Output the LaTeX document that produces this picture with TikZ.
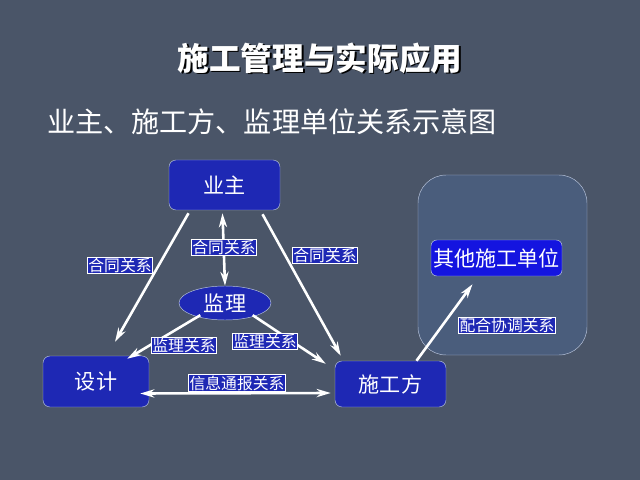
\documentclass[tikz,border=0pt]{standalone}
\usepackage{fontspec}
\setmainfont{Noto Sans CJK SC}
\usetikzlibrary{calc,shapes.geometric,arrows.meta}
\definecolor{bgslate}{HTML}{4A5568}
\definecolor{boxblue}{HTML}{1E28B4}
\definecolor{brightblue}{HTML}{1414E0}
\definecolor{panelblue}{HTML}{4A5D7C}
\definecolor{edgegray}{HTML}{B8C4DC}
\begin{document}
\begin{tikzpicture}[x=0.03cm,y=-0.03cm,
    party/.style={draw=edgegray,fill=boxblue,rounded corners=6pt,text=white,font=\fontsize{18}{18}\selectfont,inner sep=0pt},
    tag/.style={draw=white,fill=boxblue,text=white,font=\fontsize{13.5}{14}\selectfont,inner sep=0.8pt},
    link/.style={white,line width=2.2pt,-{Stealth[length=12pt,width=7pt]}},
    both/.style={white,line width=2.2pt,{Stealth[length=12pt,width=7pt]}-{Stealth[length=12pt,width=7pt]}}]
  \useasboundingbox[fill=bgslate] (0,0) rectangle (640,480);
  % titles
  \node[text=black,font=\bfseries\fontsize{27}{27}\selectfont] at (321.5,59.5) {施工管理与实际应用};
  \node[text=white,font=\bfseries\fontsize{27}{27}\selectfont] (title) at (320,58) {施工管理与实际应用};
  \node[text=white,anchor=west,font=\fontsize{24}{24}\selectfont] (sub) at (43,122) {业主、施工方、监理单位关系示意图};
  % panel
  \draw[draw=edgegray,fill=panelblue,rounded corners=24pt] (418,175) rectangle (587,355);
  % parties
  \node[party,minimum width=111*0.03cm,minimum height=50*0.03cm] (yz) at (224.5,185) {业主};
  \node[party,minimum width=106*0.03cm,minimum height=51*0.03cm] (sj) at (96,381.5) {设计};
  \node[party,minimum width=111*0.03cm,minimum height=46*0.03cm] (sgf) at (390.5,384) {施工方};
  \node[draw=edgegray,fill=boxblue,ellipse,minimum width=92*0.03cm,minimum height=34*0.03cm,inner sep=0pt,text=white,font=\fontsize{18}{18}\selectfont] (jl) at (225,303) {监理};
  \node[party,fill=brightblue,rounded corners=5pt,minimum width=131*0.03cm,minimum height=36*0.03cm] (qt) at (496.5,258) {其他施工单位};
  % connectors
  \draw[link] ($(yz.south)+(-36,3)$) -- ($(sj.north)+(19,-14)$);
  \draw[both] ($(yz.south)+(-2,3)$) -- (jl.north);
  \draw[link] ($(yz.south)+(38,4)$) -- ($(sgf.north west)+(6,-5)$);
  \draw[link] ($(jl.south west)+(8,0)$) -- ($(sj.north east)+(-22,3)$);
  \draw[link] ($(jl.south east)+(-5,0)$) -- ($(sgf.north west)+(-9,3)$);
  \draw[both] ($(sj.east)+(-9,12)$) -- ($(sgf.west)+(-4,9)$);
  \draw[link] ($(sgf.north)+(26,0)$) -- ($(qt.south)+(-24,8)$);
  % labels
  \node[tag] (t1) at (120,265) {合同关系};
  \node[tag] (t2) at (224,247) {合同关系};
  \node[tag] (t3) at (325,255) {合同关系};
  \node[tag] (t4) at (184,345) {监理关系};
  \node[tag] (t5) at (265,341) {监理关系};
  \node[tag] (t6) at (237,383) {信息通报关系};
  \node[tag] (t7) at (507,325) {配合协调关系};
\end{tikzpicture}
\end{document}
